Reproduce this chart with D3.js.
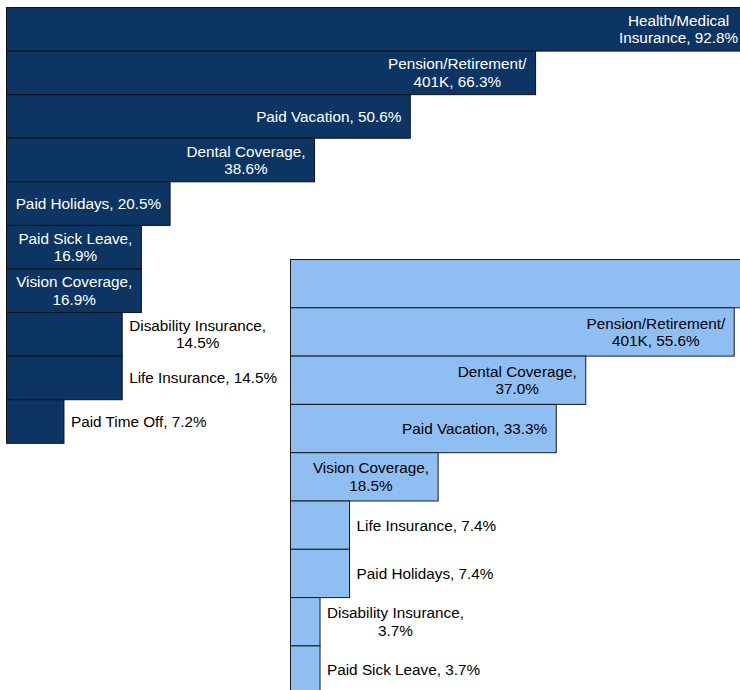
<!DOCTYPE html>
<html>
<head>
<meta charset="utf-8">
<script src="https://cdn.jsdelivr.net/npm/d3@7"></script>
<style>
  html, body { margin: 0; padding: 0; background: #fff; }
  svg text { font-family: "Liberation Sans", Arial, sans-serif; font-size: 15.3px; }
</style>
</head>
<body>
<svg id="chart" width="740" height="690"></svg>
<script>
// first group (dark bars)
var darkNames = ["Health/Medical Insurance", "Pension/Retirement/ 401K", "Paid Vacation", "Dental Coverage",
  "Paid Holidays", "Paid Sick Leave", "Vision Coverage", "Disability Insurance", "Life Insurance", "Paid Time Off"];
var darkValues = [92.8, 66.3, 50.6, 38.6, 20.5, 16.9, 16.9, 14.5, 14.5, 7.2];

// second group (light bars) - top bar runs off the picture, its label is not visible
var lightNames = ["Health/Medical Insurance", "Pension/Retirement/ 401K", "Dental Coverage", "Paid Vacation",
  "Vision Coverage", "Life Insurance", "Paid Holidays", "Disability Insurance", "Paid Sick Leave"];
var lightValues = [88.9, 55.6, 37.0, 33.3, 18.5, 7.4, 7.4, 3.7, 3.7];

var W = 740;
var svg = d3.select("#chart");
var wrapWidth = 157, lineH = 17.5, pad = 9, outGap = 7;

// measuring helper
var probe = svg.append("text").attr("x", -1000).attr("y", -1000);
function textW(s) { probe.text(s); return probe.node().getComputedTextLength(); }

function wrap(label) {
  var words = label.split(" "), lines = [], cur = "";
  words.forEach(function(w) {
    var t = cur ? cur + " " + w : w;
    if (cur && textW(t) > wrapWidth) { lines.push(cur); cur = w; }
    else cur = t;
  });
  if (cur) lines.push(cur);
  return lines;
}

function drawGroup(names, values, x, y, fill, stroke, inColor) {
  var data = names.map(function(n, i) { return {name: n, value: values[i]}; });
  var g = svg.append("g");

  g.selectAll("rect").data(data).enter().append("rect")
    .attr("x", x(0))
    .attr("y", function(d) { return y(d.name); })
    .attr("width", function(d) { return x(d.value) - x(0); })
    .attr("height", y.bandwidth())
    .attr("fill", fill)
    .attr("stroke", stroke)
    .attr("stroke-width", 1);

  data.forEach(function(d) {
    var lines = wrap(d.name + ", " + d.value.toFixed(1) + "%");
    var maxW = d3.max(lines, textW);
    var barW = x(d.value) - x(0);
    var inside = maxW + 2 * pad - 4 <= barW;
    var cx = inside ? x(d.value) - pad - maxW / 2 : x(d.value) + outGap + maxW / 2;
    // label sits past the picture's right edge -> not visible, skip it
    if (cx - maxW / 2 >= W) return;
    var cy = y(d.name) + y.bandwidth() / 2;
    var t = g.append("text")
      .attr("text-anchor", "middle")
      .attr("fill", inside ? inColor : "#000");
    lines.forEach(function(l, i) {
      t.append("tspan")
        .attr("x", cx)
        .attr("y", cy + (i - (lines.length - 1) / 2) * lineH)
        .attr("dy", "0.35em")
        .text(l);
    });
  });
}

var darkX = d3.scaleLinear().domain([0, 100]).range([6.5, 804.5]);
var darkY = d3.scaleBand().domain(darkNames).range([7.5, 443.3]).padding(0);
drawGroup(darkNames, darkValues, darkX, darkY, "#0d3563", "#111", "#fff");

var lightX = d3.scaleLinear().domain([0, 100]).range([290.5, 1088.5]);
var lightY = d3.scaleBand().domain(lightNames).range([259.5, 259.5 + 9 * 48.3]).padding(0);
drawGroup(lightNames, lightValues, lightX, lightY, "#8ebef2", "#1a1a1a", "#000");

probe.remove();
</script>
</body>
</html>
